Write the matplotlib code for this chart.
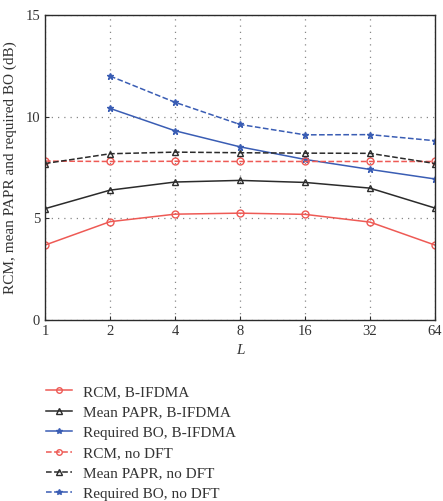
import matplotlib
matplotlib.use("Agg")
import matplotlib.pyplot as plt
import numpy as np

plt.rcParams['font.family'] = ['Liberation Serif', 'DejaVu Serif']
plt.rcParams['text.color'] = '#333333'
plt.rcParams['axes.labelcolor'] = '#333333'
plt.rcParams['xtick.labelcolor'] = '#333333'
plt.rcParams['ytick.labelcolor'] = '#333333'

L = [1, 2, 4, 8, 16, 32, 64]
L_bo = [2, 4, 8, 16, 32, 64]

rcm_bifdma = [3.69, 4.84, 5.21, 5.26, 5.20, 4.82, 3.69]
papr_bifdma = [5.48, 6.39, 6.79, 6.87, 6.77, 6.49, 5.51]
bo_bifdma = [10.41, 9.31, 8.52, 7.90, 7.41, 6.94]
rcm_nodft = [7.82, 7.80, 7.81, 7.80, 7.80, 7.80, 7.80]
papr_nodft = [7.70, 8.18, 8.26, 8.23, 8.21, 8.20, 7.70]
bo_nodft = [12.00, 10.71, 9.62, 9.11, 9.12, 8.82]

red = '#ee5a55'
black = '#2b2b2b'
blue = '#3a5db4'

fig = plt.figure(figsize=(4.43, 5.01), dpi=100)
ax = fig.add_axes([0.1016, 0.361, 0.8804, 0.609])

ms = 5
ax.plot(L, rcm_bifdma, '-o', color=red, mfc='none', ms=ms, lw=1.1, label='RCM, B-IFDMA')
ax.plot(L, papr_bifdma, '-^', color=black, mfc='none', ms=ms, lw=1.1, label='Mean PAPR, B-IFDMA')
ax.plot(L_bo, bo_bifdma, '-*', color=blue, ms=ms, lw=1.1, label='Required BO, B-IFDMA')
ax.plot(L, rcm_nodft, '--o', color=red, mfc='none', ms=ms, lw=1.1, label='RCM, no DFT')
ax.plot(L, papr_nodft, '--^', color=black, mfc='none', ms=ms, lw=1.1, label='Mean PAPR, no DFT')
ax.plot(L_bo, bo_nodft, '--*', color=blue, ms=ms, lw=1.1, label='Required BO, no DFT')

ax.set_xscale('log', base=2)
ax.set_xlim(1, 64)
ax.set_xticks(L)
ax.set_xticklabels([str(v) for v in L])
ax.minorticks_off()
ax.set_ylim(0, 15)
ax.set_yticks([0, 5, 10, 15])
ax.tick_params(direction='in', labelsize=10.5, length=3, color=black)
ax.grid(True, linestyle=(0, (1, 4)), color='#888888', lw=0.9)
for s in ax.spines.values():
    s.set_color(black)
    s.set_linewidth(1.0)

ax.set_xlabel('L', fontstyle='italic', fontsize=11)
ax.set_ylabel('RCM, mean PAPR and required BO (dB)', fontsize=11, labelpad=6)

handles, labels = ax.get_legend_handles_labels()
fig.legend(handles, labels, loc='upper left', bbox_to_anchor=(46 / 443, 1 - 385 / 501),
           frameon=False, fontsize=11, handlelength=1.7, labelspacing=0.44,
           markerscale=0.8, handletextpad=0.7, borderpad=0, borderaxespad=0)

fig.savefig('out.png', dpi=100)
